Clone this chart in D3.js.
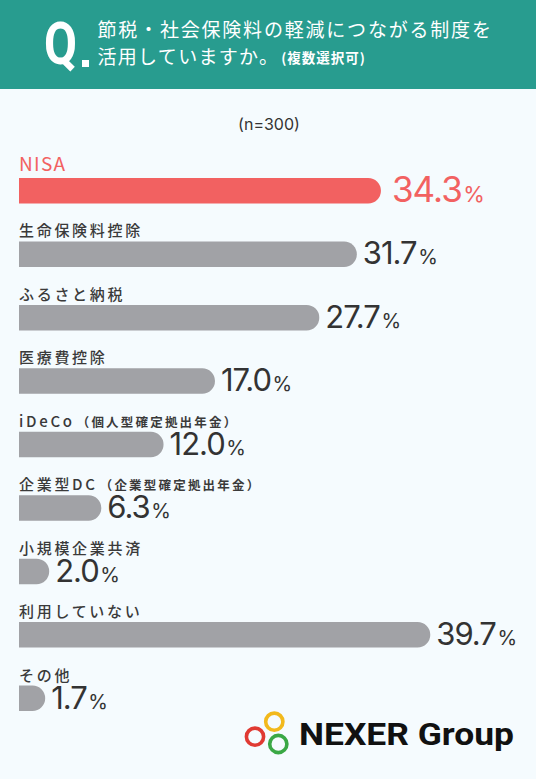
<!DOCTYPE html>
<html><head><meta charset="utf-8">
<script src="https://cdn.jsdelivr.net/npm/d3@7"></script>
<style>
html,body{margin:0;padding:0;background:#f5fbfe;}
svg{display:block;}
</style></head>
<body>
<svg id="chart" width="536" height="779"></svg>
<script>
const categories = ["NISA","生命保険料控除","ふるさと納税","医療費控除","iDeCo","企業型DC","小規模企業共済","利用していない","その他"];
const subNotes = ["","","","","（個人型確定拠出年金）","（企業型確定拠出年金）","","",""];
const values = [34.3,31.7,27.7,17.0,12.0,6.3,2.0,39.7,1.7];
const highlight = ["NISA"];
const titleLines = ["節税・社会保険料の軽減につながる制度を","活用していますか。"];
const titleNote = "(複数選択可)";
const sampleNote = "(n=300)";
const brand = "NEXER Group";

const W = 536, H = 779;
const svg = d3.select("#chart");
const red = "#f26161", gray = "#a1a2a6", teal = "#289c8f", ink = "#333333";
const jp = "'Noto Sans CJK JP','Noto Sans',sans-serif";
const num = "Inter,Roboto,sans-serif";

svg.append("rect").attr("width",W).attr("height",H).attr("fill","#f5fbfe");

// header
svg.append("rect").attr("width",W).attr("height",89).attr("fill",teal);
svg.append("text").attr("x",44).attr("y",63.5).attr("fill","#fff")
  .attr("font-family","Roboto,sans-serif").attr("font-weight",700).attr("font-size",60)
  .attr("textLength",33).attr("lengthAdjust","spacingAndGlyphs").text("Q");
svg.append("rect").attr("x",82).attr("y",60).attr("width",7).attr("height",7).attr("fill","#fff");
svg.append("text").attr("x",97.5).attr("y",37).attr("fill","#fff")
  .attr("font-family",jp).attr("font-size",19).attr("letter-spacing",1.8).text(titleLines[0]);
const t2 = svg.append("text").attr("x",97.5).attr("y",64).attr("fill","#fff")
  .attr("font-family",jp).attr("font-size",19).attr("letter-spacing",1.3);
t2.append("tspan").text(titleLines[1]);
t2.append("tspan").attr("font-size",13.5).attr("font-weight",700).attr("letter-spacing",1).attr("dx",2).attr("dy",-1).text(titleNote);

svg.append("text").attr("x",269).attr("y",130).attr("text-anchor","middle").attr("fill",ink)
  .attr("font-family",num).attr("font-size",16).text(sampleNote);

// scales
const x = d3.scalePow().exponent(0.874).domain([0,40]).range([19,433]);
const y = d3.scalePoint().domain(categories).range([178,685.5]);
const bh = 25.5, r = bh/2;

const rows = svg.append("g").selectAll("g").data(categories.map((c,i)=>({c,sub:subNotes[i],v:values[i]})))
  .join("g");

rows.append("path")
  .attr("fill",d=>highlight.includes(d.c)?red:gray)
  .attr("d",d=>{
    const x0=x(0), x1=x(d.v), y0=y(d.c), y1=y0+bh;
    const p=d3.path();
    p.moveTo(x0,y0); p.lineTo(x1-r,y0);
    p.arc(x1-r,y0+r,r,-Math.PI/2,Math.PI/2);
    p.lineTo(x0,y1); p.closePath();
    return p.toString();
  });

rows.each(function(d){
  const g=d3.select(this);
  const hi=highlight.includes(d.c);
  const lab=g.append("text").attr("x",19)
    .attr("y",y(d.c)-(hi?7:5))
    .attr("fill",hi?red:"#3a3a3a").attr("font-family",jp).attr("font-weight",hi?400:500)
    .attr("font-size",hi?19:15).attr("letter-spacing",hi?1.3:2.7);
  lab.append("tspan").text(d.c);
  if(d.sub) lab.append("tspan").attr("font-size",12.5).attr("font-weight",700).attr("letter-spacing",2.2).attr("dx",2).text(d.sub);
  const vt=g.append("text").attr("x",x(d.v)+(hi?11:6))
    .attr("y",y(d.c)+bh-(hi?1.5:2.5))
    .attr("fill",hi?red:ink).attr("font-family",num).attr("font-weight",400)
    .attr("letter-spacing",-1);
  vt.append("tspan").attr("font-size",hi?35:31).text(d3.format(".1f")(d.v));
  vt.append("tspan").attr("font-size",hi?22:20).attr("dx",1.5).attr("letter-spacing",0).text("%");
});

// logo
const logo = svg.append("g");
[[255,736.7,"#e03a33"],[274.3,721.7,"#f2b91c"],[278.3,744,"#3aa845"]].forEach(([cx,cy,c])=>{
  logo.append("circle").attr("cx",cx).attr("cy",cy).attr("r",8.6).attr("fill","none").attr("stroke",c).attr("stroke-width",3.6);
});
logo.append("text").attr("x",299).attr("y",744.5).attr("fill","#111")
  .attr("font-family","Roboto,sans-serif").attr("font-weight",700).attr("font-size",32)
  .attr("textLength",215).attr("lengthAdjust","spacingAndGlyphs").text(brand);
</script>
</body></html>
